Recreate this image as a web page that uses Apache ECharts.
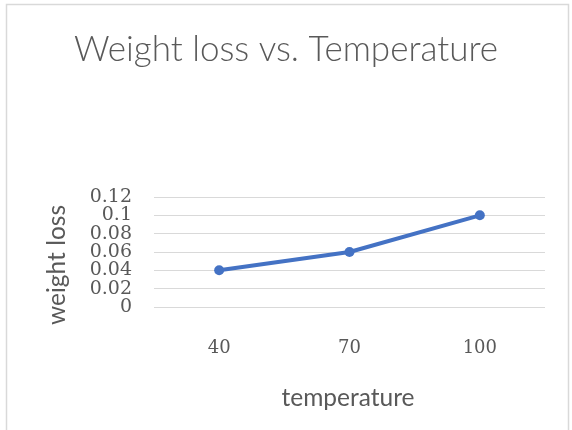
<!DOCTYPE html>
<html><head><meta charset="utf-8">
<script src="https://cdn.jsdelivr.net/npm/echarts@6/dist/echarts.min.js"></script>
<style>html,body{margin:0;padding:0;background:#fff}#c{width:572px;height:430px}</style>
</head><body><div id="c"></div>
<script>
const categories = ['40', '70', '100'];
const weightLoss = [0.04, 0.06, 0.1];
const yTicks = [0, 0.02, 0.04, 0.06, 0.08, 0.1, 0.12];
// tick labels split over two stacked axes so the tightly packed labels all stay visible
const yTicksEven = [0, 0.04, 0.08, 0.12];
const yTicksOdd = [0.02, 0.06, 0.1];

function labelFor(list) {
  return v => {
    const t = list.find(x => Math.abs(x - v) < 1e-9);
    return t !== undefined ? String(t) : '';
  };
}
const yLabelStyle = { margin: 22, fontFamily: 'DejaVu Serif', fontSize: 19, color: '#595959' };

const chart = echarts.init(document.getElementById('c'));
chart.setOption({
  backgroundColor: '#fff',
  animation: false,
  title: {
    text: 'Weight loss vs. Temperature',
    left: 'center', top: 27,
    textStyle: { fontFamily: 'Lato', fontWeight: 300, fontSize: 35, color: '#595959' }
  },
  graphic: [
    { type: 'rect', shape: { x: 6.5, y: 4.5, width: 562, height: 440 }, style: { fill: 'none', stroke: '#d9d9d9', lineWidth: 1.5 } },
    { type: 'text', x: 348, y: 398, style: { text: 'temperature', font: '24.5px Lato', fill: '#595959', align: 'center', verticalAlign: 'middle' } },
    { type: 'text', rotation: Math.PI / 2, x: 57, y: 265, style: { text: 'weight loss', font: '24.5px Lato', fill: '#595959', align: 'center', verticalAlign: 'middle' } }
  ],
  grid: { left: 154, right: 27, top: 197, bottom: 123 },
  xAxis: {
    type: 'category', data: categories, boundaryGap: true,
    axisLine: { show: false }, axisTick: { show: false },
    axisLabel: { margin: 32, fontFamily: 'DejaVu Serif', fontSize: 18, color: '#595959' }
  },
  yAxis: [
    {
      type: 'value', min: yTicks[0], max: yTicks[yTicks.length - 1], interval: 0.02, position: 'left',
      axisLine: { show: false }, axisTick: { show: false },
      splitLine: { lineStyle: { color: '#d9d9d9', width: 1 } },
      axisLabel: Object.assign({}, yLabelStyle, { showMinLabel: true, showMaxLabel: true, formatter: labelFor(yTicksEven) })
    },
    {
      type: 'value', min: yTicks[0], max: yTicks[yTicks.length - 1], interval: 0.02, position: 'left', offset: 0,
      axisLine: { show: false }, axisTick: { show: false }, splitLine: { show: false },
      axisLabel: Object.assign({}, yLabelStyle, { showMinLabel: false, showMaxLabel: false, formatter: labelFor(yTicksOdd) })
    }
  ],
  series: [{
    type: 'line', data: weightLoss, yAxisIndex: 0,
    lineStyle: { color: '#4472C4', width: 4 },
    itemStyle: { color: '#4472C4' },
    symbol: 'circle', symbolSize: 10
  }]
});
</script></body></html>
